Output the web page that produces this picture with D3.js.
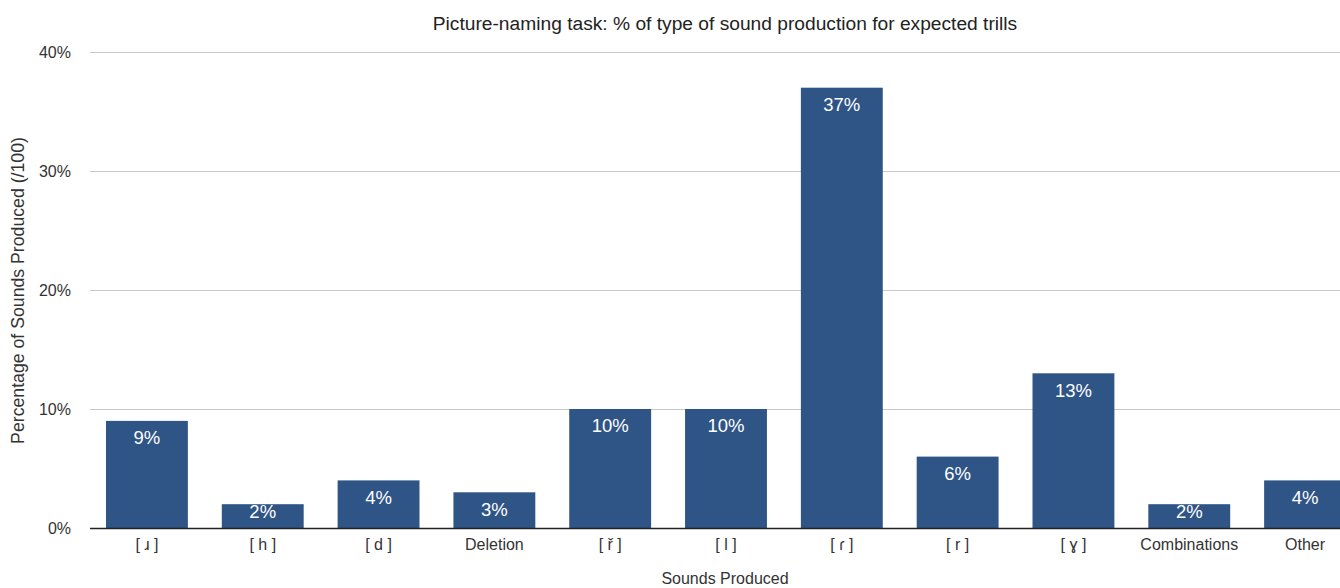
<!DOCTYPE html>
<html><head><meta charset="utf-8">
<script src="https://cdn.jsdelivr.net/npm/d3@7"></script>
<style>
body{margin:0;background:#fff;}
text{font-family:"Liberation Sans",Arial,Helvetica,sans-serif;}
</style></head>
<body><svg id="c" width="1340" height="588"></svg>
<script>
const categories = ["[ ɹ ]","[ h ]","[ d ]","Deletion","[ ř ]","[ l ]","[ ɾ ]","[ r ]","[ ɣ ]","Combinations","Other"];
const values = [9,2,4,3,10,10,37,6,13,2,4];
const yTicks = [0,10,20,30,40];

(function(){
const svg = d3.select("#c");
const pLeft = 90, pRight = 1362, pTop = 52, pBottom = 528;
const x = d3.scaleBand().domain(categories).range([pLeft,pRight]).paddingInner(0.293).paddingOuter(0.138);
const y = d3.scaleLinear().domain([0,40]).range([pBottom,pTop]);

// gridlines
svg.append("g").selectAll("line").data(yTicks.filter(d=>d>0)).join("line")
  .attr("x1",pLeft).attr("x2",1340).attr("y1",d=>y(d)+0.5).attr("y2",d=>y(d)+0.5)
  .attr("stroke","#c8c8c8").attr("stroke-width",1);

// y axis labels
const ya = svg.append("g").attr("transform",`translate(${pLeft},0)`)
  .call(d3.axisLeft(y).tickValues(yTicks).tickFormat(d=>d+"%").tickSize(0).tickPadding(19));
ya.select(".domain").remove();
ya.selectAll("text").attr("font-size",16).attr("fill","#333").attr("font-family","Liberation Sans, Arial, sans-serif");

// bars
svg.append("g").selectAll("rect").data(values).join("rect")
  .attr("x",(d,i)=>x(categories[i])).attr("width",x.bandwidth())
  .attr("y",d=>y(d)).attr("height",d=>pBottom-y(d))
  .attr("fill","#2f5486");

// value labels
svg.append("g").selectAll("text").data(values).join("text")
  .attr("x",(d,i)=>x(categories[i])+x.bandwidth()/2)
  .attr("y",d=>Math.min(y(d)+17,512)).attr("dy","0.35em")
  .attr("text-anchor","middle").attr("font-size",18.5).attr("fill","#fff")
  .text(d=>d+"%");

// baseline
svg.append("line").attr("x1",pLeft).attr("x2",1340).attr("y1",pBottom+0.5).attr("y2",pBottom+0.5)
  .attr("stroke","#222").attr("stroke-width",1.5);

// x axis labels
const xa = svg.append("g").attr("transform",`translate(0,${pBottom})`)
  .call(d3.axisBottom(x).tickSize(0).tickPadding(11));
xa.select(".domain").remove();
xa.selectAll("text").attr("font-size",16).attr("fill","#333").attr("font-family","Liberation Sans, Arial, sans-serif");

// titles
svg.append("text").attr("x",725).attr("y",30).attr("text-anchor","middle")
  .attr("font-size",19.2).attr("fill","#222").text("Picture-naming task: % of type of sound production for expected trills");
svg.append("text").attr("x",725).attr("y",584).attr("text-anchor","middle")
  .attr("font-size",16).attr("fill","#333").text("Sounds Produced");
svg.append("text").attr("transform","translate(24,290.5) rotate(-90)").attr("text-anchor","middle")
  .attr("font-size",17.7).attr("fill","#333").text("Percentage of Sounds Produced (/100)");
})();
</script></body></html>
